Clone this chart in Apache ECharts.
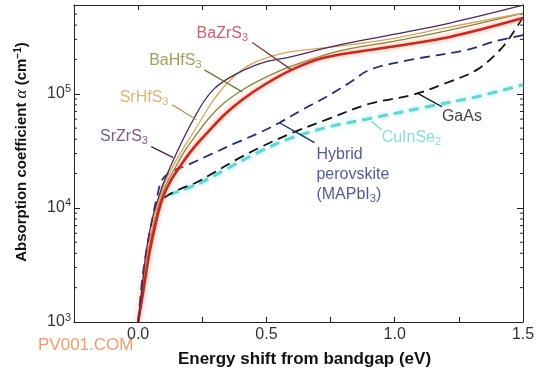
<!DOCTYPE html>
<html><head><meta charset="utf-8">
<script src="https://cdn.jsdelivr.net/npm/echarts@6/dist/echarts.min.js"></script>
<style>html,body{margin:0;padding:0;background:#fff}#c{width:541px;height:373px}</style>
</head><body><div id="c"></div>
<script>
// ---- data: [energy shift (eV), absorption coefficient (cm^-1)] ----
const BaZrS3 = [[0,1000],[0.0234,2063],[0.043,3930],[0.0703,7620],[0.0938,11860],[0.121,16360],[0.16,22590],[0.211,32440],[0.27,45640],[0.336,65600],[0.406,88700],[0.492,120000],[0.59,159000],[0.719,206000],[0.98,257000],[1.215,315000],[1.5,461000]];
const BaHfS3 = [[0,1000],[0.0234,2063],[0.041,4080],[0.0664,7940],[0.1055,15400],[0.1406,21700],[0.1797,31100],[0.2266,43800],[0.2773,61700],[0.3359,83400],[0.4063,108000],[0.4844,135000],[0.5898,172000],[0.7852,238000],[0.9805,285000],[1.2148,362000],[1.5,510000]];
const SrHfS3 = [[0,1000],[0.0195,2063],[0.0371,4080],[0.0625,7940],[0.0977,15400],[0.129,21700],[0.168,31100],[0.207,42900],[0.25,61700],[0.289,85100],[0.344,122000],[0.422,172000],[0.5,206000],[0.59,233000],[0.785,262000],[0.98,302000],[1.215,385000],[1.5,510000]];
const SrZrS3 = [[0,1000],[0.0156,2063],[0.0313,4080],[0.0547,7940],[0.0938,15400],[0.121,21700],[0.152,31100],[0.184,43800],[0.219,61700],[0.258,86900],[0.297,111000],[0.348,135000],[0.406,159000],[0.484,187000],[0.59,210000],[0.785,268000],[0.98,327000],[1.215,417000],[1.5,598000]];
const MAPbI3 = [[0,1000],[0.016,2380],[0.035,4620],[0.055,7940],[0.074,12600],[0.094,17700],[0.129,20800],[0.1875,23500],[0.289,29900],[0.383,37300],[0.473,45600],[0.551,55800],[0.64,72500],[0.734,94200],[0.824,125000],[0.902,162000],[1.059,198000],[1.281,242000],[1.383,285000],[1.5,327000]];
const GaAs = [[0,1000],[0.02,2060],[0.043,4620],[0.066,7940],[0.082,10700],[0.109,12600],[0.16,14500],[0.227,16700],[0.289,20000],[0.383,26500],[0.473,33700],[0.602,45600],[0.734,59300],[0.902,81800],[1.07,98000],[1.203,125000],[1.32,162000],[1.41,242000],[1.461,341000],[1.5,470000]];
const CuInSe2 = [[0.121,13100],[0.238,16400],[0.355,22600],[0.473,31100],[0.59,40400],[0.746,51500],[0.902,60600],[1.125,76900],[1.32,94200],[1.5,120000]];
const xTickLabels = ['0.0','0.5','1.0','1.5'];
const yMinorTicks = [2e3,3e3,4e3,5e3,6e3,7e3,8e3,9e3,2e4,3e4,4e4,5e4,6e4,7e4,8e4,9e4,2e5,3e5,4e5,5e5];

const X_MIN = -0.25, X_MAX = 1.5, Y_MIN = 1000, Y_MAX = 600000;
const FONT = '"Liberation Sans", Arial, sans-serif';

const chart = echarts.init(document.getElementById('c'), null, {renderer: 'canvas'});

function curve(name, data, color, width, dashed, glow) {
  const s = {
    name, type: 'line', data, smooth: 0.35, showSymbol: false, silent: true,
    lineStyle: {color, width, type: dashed ? [10, 6] : 'solid', cap: 'butt'},
    z: 3
  };
  if (glow) { s.lineStyle.shadowColor = glow; s.lineStyle.shadowBlur = 5; }
  return s;
}
function leader(from, to, color) {
  return {type: 'line', data: [from, to], showSymbol: false, silent: true,
    lineStyle: {color, width: 1.3}, z: 4};
}
const subRich = (color) => ({
  t: {fontSize: 16, color, fontFamily: FONT},
  s: {fontSize: 11, color, fontFamily: FONT, padding: [8, 0, 0, 0]}
});
function label(pos, text, color, position) {
  return {
    value: pos,
    label: {show: true, position: position || 'inside', distance: 0, formatter: text,
      color, fontSize: 16, fontFamily: FONT, lineHeight: 20, rich: subRich(color), align: position === 'right' ? 'left' : 'center'}
  };
}
const frameLine = {show: true, onZero: false, lineStyle: {color: '#222', width: 1}};

const option = {
  animation: false,
  backgroundColor: '#fff',
  grid: {left: 74, right: 18, top: 5, bottom: 50, containLabel: false},
  xAxis: [{
    type: 'value', min: X_MIN, max: X_MAX, interval: 0.25,
    name: 'Energy shift from bandgap (eV)', nameLocation: 'middle', nameGap: 29,
    nameTextStyle: {fontSize: 17, fontWeight: 'bold', color: '#111', fontFamily: FONT, padding: [0, 0, 0, 12]},
    axisLine: frameLine,
    axisTick: {show: true, inside: true, length: 5, lineStyle: {color: '#222'}},
    axisLabel: {fontSize: 16, color: '#333', fontFamily: FONT, margin: 5,
      formatter: v => {
        const k = Math.round(v * 2);
        if (Math.abs(v * 2 - k) > 1e-9 || k < 0) return '';
        return xTickLabels[k] || '';
      }},
    splitLine: {show: false}
  }, {
    type: 'value', position: 'top', min: X_MIN, max: X_MAX, interval: 0.25,
    axisLine: frameLine,
    axisTick: {show: true, inside: true, length: 5, lineStyle: {color: '#222'}},
    axisLabel: {show: false}, splitLine: {show: false}
  }],
  yAxis: [{
    type: 'log', logBase: 10, min: Y_MIN, max: Y_MAX,
    axisLine: frameLine,
    axisTick: {show: true, inside: true, length: 6, lineStyle: {color: '#222'}},
    axisLabel: {margin: 3, color: '#333', fontFamily: FONT, showMaxLabel: false,
      formatter: v => {
        const e = Math.round(Math.log10(v));
        if (Math.abs(Math.pow(10, e) - v) > 1e-6 * v) return '';
        return '{b|10}{s|' + e + '}';
      },
      rich: {b: {fontSize: 16, color: '#333', fontFamily: FONT}, s: {fontSize: 11, color: '#333', fontFamily: FONT, padding: [0, 0, 9, 0]}}
    },
    splitLine: {show: false}
  }, {
    type: 'log', logBase: 10, min: Y_MIN, max: Y_MAX, position: 'right',
    axisLine: frameLine,
    axisTick: {show: true, inside: true, length: 6, lineStyle: {color: '#222'}},
    axisLabel: {show: false}, splitLine: {show: false}
  }],
  graphic: [{
    type: 'text', x: 22, y: 152, rotation: Math.PI / 2,
    style: {
      text: 'Absorption coefficient {a|α} (cm{s|−1})',
      font: 'bold 15px ' + FONT, fill: '#111', align: 'center', verticalAlign: 'middle',
      rich: {
        a: {fontFamily: '"Liberation Serif", serif', fontStyle: 'italic', fontSize: 17, fill: '#111'},
        s: {fontSize: 10, fontWeight: 'bold', fill: '#111', fontFamily: FONT, padding: [0, 0, 8, 0]}
      }
    }
  }, {
    type: 'text', x: 38, y: 345,
    style: {text: 'PV001.COM', font: '17px ' + FONT, fill: '#f39c6b', align: 'left', verticalAlign: 'middle'}
  }],
  series: [
    {
      type: 'custom', coordinateSystem: 'cartesian2d', silent: true, clip: false,
      data: yMinorTicks.map(v => [X_MIN, v]), encode: {x: 0, y: 1},
      renderItem: (params, api) => {
        const v = api.value(1);
        const l = api.coord([X_MIN, v]);
        const r = api.coord([X_MAX, v]);
        return {type: 'group', children: [
          {type: 'line', shape: {x1: l[0], y1: l[1], x2: l[0] + 3, y2: l[1]}, style: {stroke: '#222', lineWidth: 1}},
          {type: 'line', shape: {x1: r[0] - 3, y1: r[1], x2: r[0], y2: r[1]}, style: {stroke: '#222', lineWidth: 1}}
        ]};
      }
    },
    curve('CuInSe2', CuInSe2, '#5fd6cf', 3, true, 'rgba(120,230,220,0.8)'),
    curve('GaAs', GaAs, '#111111', 1.8, true),
    curve('MAPbI3', MAPbI3, '#262b7a', 1.8, true),
    curve('BaHfS3', BaHfS3, '#7d8a34', 1.3, false),
    curve('SrHfS3', SrHfS3, '#dba25a', 1.3, false),
    curve('BaZrS3', BaZrS3, '#c9281c', 2.6, false, 'rgba(255,120,100,0.8)'),
    curve('SrZrS3', SrZrS3, '#47285f', 1.3, false),
    leader([0.445, 282000], [0.598, 162000], '#7a3b3b'),
    leader([0.258, 162000], [0.406, 104000], '#6f7a38'),
    leader([0.133, 80200], [0.227, 59300], '#b89050'),
    leader([0.051, 34400], [0.137, 27600], '#3c2a50'),
    leader([0.551, 55800], [0.6875, 37300], '#22285e'),
    leader([1.086, 102000], [1.184, 76900], '#111111'),
    leader([0.91, 56900], [0.949, 48500], '#6fd6cf'),
    {
      type: 'scatter', symbolSize: 0, silent: true, z: 5,
      data: [
        label([0.328, 334000], '{t|BaZrS}{s|3}', '#c0354a'),
        label([0.145, 194000], '{t|BaHfS}{s|3}', '#858a2e'),
        label([0.023, 92200], '{t|SrHfS}{s|3}', '#d6a152'),
        label([-0.055, 42100], '{t|SrZrS}{s|3}', '#59306e'),
        label([0.695, 19600], '{t|Hybrid}\n{t|perovskite}\n{t|(MAPbI}{s|3}{t|)}', '#2a3080', 'right'),
        label([1.184, 63100], '{t|GaAs}', '#111111', 'right'),
        label([0.949, 41300], '{t|CuInSe}{s|2}', '#66d8d0', 'right')
      ]
    }
  ]
};
chart.setOption(option);
</script>
</body></html>
